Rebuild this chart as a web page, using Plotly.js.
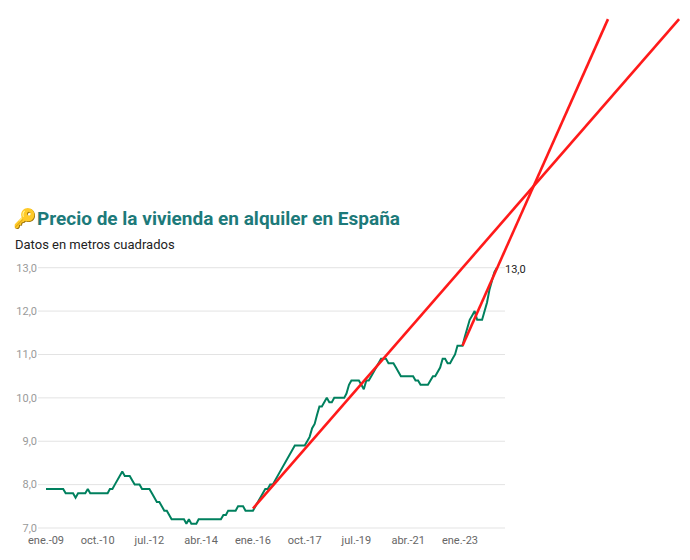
<!DOCTYPE html>
<html>
<head>
<meta charset="utf-8">
<script src="https://cdn.plot.ly/plotly-3.0.1.min.js"></script>
<style>
html,body{margin:0;padding:0;background:#fff;}
#chart{width:690px;height:560px;}
</style>
</head>
<body>
<div id="chart"></div>
<script>
// Monthly series, starting January 2009
const startYear = 2009;
const priceValues = [
  7.9,7.9,7.9,7.9,7.9,7.9,7.9,7.9,7.8,7.8,7.8,7.8,
  7.7,7.8,7.8,7.8,7.8,7.9,7.8,7.8,7.8,7.8,7.8,7.8,
  7.8,7.8,7.9,7.9,8.0,8.1,8.2,8.3,8.2,8.2,8.2,8.1,
  8.0,8.0,8.0,7.9,7.9,7.9,7.9,7.8,7.7,7.6,7.6,7.5,
  7.4,7.4,7.3,7.2,7.2,7.2,7.2,7.2,7.2,7.1,7.2,7.1,
  7.1,7.1,7.2,7.2,7.2,7.2,7.2,7.2,7.2,7.2,7.2,7.2,
  7.3,7.3,7.4,7.4,7.4,7.4,7.5,7.5,7.5,7.4,7.4,7.4,
  7.4,7.5,7.6,7.7,7.8,7.9,7.9,8.0,8.0,8.1,8.2,8.3,
  8.4,8.5,8.6,8.7,8.8,8.9,8.9,8.9,8.9,8.9,9.0,9.1,
  9.3,9.4,9.6,9.8,9.8,9.9,10.0,9.9,9.9,10.0,10.0,10.0,
  10.0,10.0,10.1,10.3,10.4,10.4,10.4,10.4,10.3,10.2,10.4,10.4,
  10.5,10.6,10.7,10.8,10.9,10.9,10.9,10.8,10.8,10.8,10.7,10.6,
  10.5,10.5,10.5,10.5,10.5,10.5,10.4,10.4,10.3,10.3,10.3,10.3,
  10.4,10.5,10.5,10.6,10.7,10.9,10.9,10.8,10.8,10.9,11.0,11.2,
  11.2,11.2,11.4,11.6,11.8,11.9,12.0,11.8,11.8,11.8,12.0,12.2,
  12.5,12.7,12.9,13.0
];
const priceDates = priceValues.map((v, i) => {
  const y = startYear + Math.floor(i / 12);
  const m = (i % 12) + 1;
  return y + '-' + String(m).padStart(2, '0') + '-01';
});

// Hand-drawn trend lines (red)
const trend1Dates = ['2016-01-01', '2030-05-30'];
const trend1Values = [7.45, 18.73];
const trend2Dates = ['2023-02-01', '2028-01-03'];
const trend2Values = [11.2, 18.73];

// Axis ticks
const xTickVals = ['2009-01-01','2010-10-01','2012-07-01','2014-04-01','2016-01-01','2017-10-01','2019-07-01','2021-04-01','2023-01-01'];
const xTickText = ['ene.-09','oct.-10','jul.-12','abr.-14','ene.-16','oct.-17','jul.-19','abr.-21','ene.-23'];
const yTickVals = [7, 8, 9, 10, 11, 12, 13];

const fmt = v => v.toFixed(1).replace('.', ',');
const lastIdx = priceValues.length - 1;

const traces = [
  {
    x: priceDates, y: priceValues, type: 'scatter', mode: 'lines',
    line: {color: '#00805e', width: 2}, hoverinfo: 'skip', showlegend: false
  },
  {
    x: trend1Dates, y: trend1Values, type: 'scatter', mode: 'lines',
    line: {color: '#ff1a1a', width: 2.6}, hoverinfo: 'skip', showlegend: false
  },
  {
    x: trend2Dates, y: trend2Values, type: 'scatter', mode: 'lines',
    line: {color: '#ff1a1a', width: 2.6}, hoverinfo: 'skip', showlegend: false
  }
];

const gridShapes = yTickVals.map(v => ({
  type: 'line', xref: 'x', yref: 'y', layer: 'below',
  x0: '2008-09-24', x1: '2024-07-10', y0: v, y1: v,
  line: {color: '#e3e3e3', width: 1}
}));

const layout = {
  width: 690, height: 560,
  margin: {l: 38, r: 0, t: 0, b: 30},
  paper_bgcolor: '#fff', plot_bgcolor: '#fff',
  separators: ',.',
  font: {family: 'Roboto, sans-serif'},
  title: {
    text: '🔑Precio de la vivienda en alquiler en España',
    x: 13 / 690, xanchor: 'left', xref: 'container',
    y: 1 - 218 / 560, yanchor: 'middle', yref: 'container',
    font: {family: 'Roboto, sans-serif', size: 19, weight: 'bold', color: '#1d7a7a'}
  },
  xaxis: {
    type: 'date', range: ['2008-09-24', '2030-10-12'],
    tickmode: 'array', tickvals: xTickVals, ticktext: xTickText,
    showgrid: false, zeroline: false, showline: false, ticks: '',
    ticklabelstandoff: 2,
    tickfont: {family: 'Roboto, sans-serif', size: 11, color: '#666'},
    fixedrange: true
  },
  yaxis: {
    range: [6.954, 19.171],
    tickmode: 'array', tickvals: yTickVals, tickformat: '.1f',
    showgrid: false, zeroline: false, showline: false, ticks: '',
    tickfont: {family: 'Roboto, sans-serif', size: 11, color: '#9a9a9a'},
    fixedrange: true
  },
  shapes: gridShapes,
  annotations: [
    {
      text: 'Datos en metros cuadrados', showarrow: false,
      xref: 'paper', yref: 'paper',
      x: (13 - 38) / 652, xanchor: 'left',
      y: 1 - 244 / 530, yanchor: 'middle',
      font: {family: 'Roboto, sans-serif', size: 13, color: '#222'}
    },
    {
      text: fmt(priceValues[lastIdx]), showarrow: false,
      xref: 'x', yref: 'y',
      x: priceDates[lastIdx], y: priceValues[lastIdx],
      xanchor: 'left', yanchor: 'middle', xshift: 6, yshift: -2,
      font: {family: 'Roboto, sans-serif', size: 11, color: '#222'}
    }
  ]
};

Plotly.newPlot('chart', traces, layout, {displayModeBar: false, staticPlot: true});
</script>
</body>
</html>
